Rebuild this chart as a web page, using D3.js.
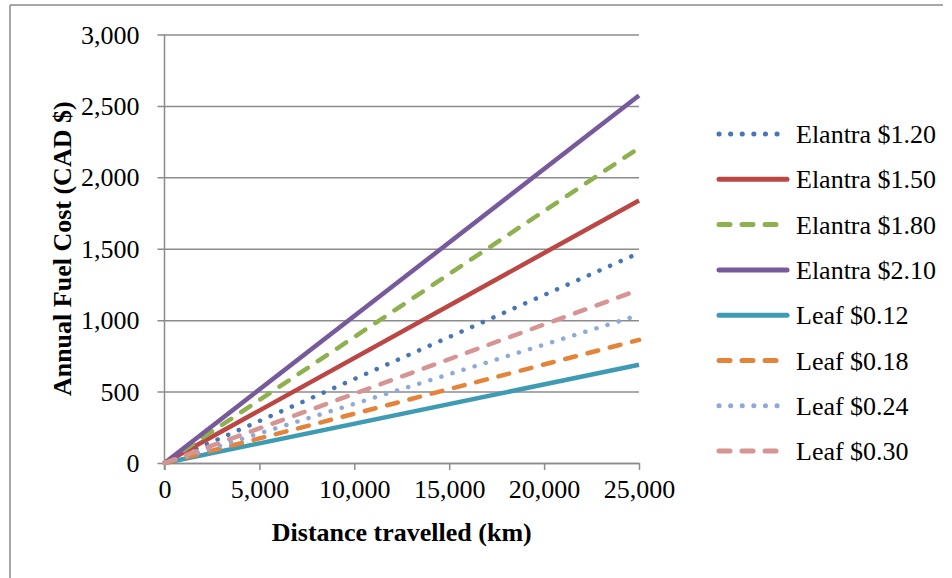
<!DOCTYPE html>
<html>
<head>
<meta charset="utf-8">
<script src="https://cdn.jsdelivr.net/npm/d3@7"></script>
<style>
	body { margin: 0; background: #fff; }
	svg { display: block; font-family: "Liberation Serif", "Times New Roman", serif; }
</style>
</head>
<body>
<div id="chart"></div>
<script>

// Distance travelled (km), x values of every series
const distances = [0, 25000];

// Annual fuel cost (CAD $)
const elantra120 = [0, 1470];
const elantra150 = [0, 1838];
const elantra180 = [0, 2205];
const elantra210 = [0, 2573];
const leaf012 = [0, 688];
const leaf018 = [0, 862];
const leaf024 = [0, 1036];
const leaf030 = [0, 1212];

const seriesNames = ['Elantra $1.20', 'Elantra $1.50', 'Elantra $1.80', 'Elantra $2.10',
					 'Leaf $0.12', 'Leaf $0.18', 'Leaf $0.24', 'Leaf $0.30'];
const seriesValues = [elantra120, elantra150, elantra180, elantra210,
					  leaf012, leaf018, leaf024, leaf030];

const xTicks = [0, 5000, 10000, 15000, 20000, 25000];
const yTicks = [0, 500, 1000, 1500, 2000, 2500, 3000];

// line styles: colour + dash pattern
const styles = [
	{ color: '#4676b6', dash: '0.1,11.5' },
	{ color: '#bb4744', dash: null },
	{ color: '#8fb04f', dash: '11,12' },
	{ color: '#765a9c', dash: null },
	{ color: '#3f9bb4', dash: null },
	{ color: '#e4843a', dash: '11,12' },
	{ color: '#8eaad8', dash: '0.1,11.5' },
	{ color: '#d69493', dash: '11,12' }
];

const width = 952, height = 578;
const plot = { left: 164.5, right: 639, top: 34.5, bottom: 463 };

const svg = d3.select('#chart').append('svg')
	.attr('width', width)
	.attr('height', height);

// outer frame (top and left edge visible)
svg.append('line')
	.attr('x1', 10).attr('x2', 943).attr('y1', 5).attr('y2', 5)
	.attr('stroke', '#8a8a8a').attr('stroke-width', 1.5);
svg.append('line')
	.attr('x1', 10).attr('x2', 10).attr('y1', 5).attr('y2', height)
	.attr('stroke', '#8a8a8a').attr('stroke-width', 1.5);

const x = d3.scaleLinear()
	.domain([0, 25000])
	.range([plot.left, plot.right]);

const y = d3.scaleLinear()
	.domain([0, 3000])
	.range([plot.bottom, plot.top]);

const fmt = d3.format(',');

// Y axis with gridlines
const yAxis = svg.append('g')
	.attr('transform', `translate(${plot.left},0)`)
	.call(d3.axisLeft(y)
		.tickValues(yTicks)
		.tickFormat(fmt)
		.tickSize(-(plot.right - plot.left))
		.tickSizeOuter(0)
		.tickPadding(0));
yAxis.select('.domain').remove();
yAxis.selectAll('.tick line')
	.attr('x1', -7)
	.attr('stroke', '#8c8c8c')
	.attr('stroke-width', 1.5);
yAxis.selectAll('.tick text')
	.attr('x', -25)
	.attr('dy', '0.33em')
	.attr('fill', '#000')
	.style('font-size', '26px')
	.style('font-family', '"Liberation Serif", serif');

// vertical axis line
svg.append('line')
	.attr('x1', plot.left).attr('x2', plot.left)
	.attr('y1', plot.top).attr('y2', plot.bottom + 7)
	.attr('stroke', '#8c8c8c').attr('stroke-width', 1.5);

// X axis
const xAxis = svg.append('g')
	.attr('transform', `translate(0,${plot.bottom})`)
	.call(d3.axisBottom(x)
		.tickValues(xTicks)
		.tickFormat(fmt)
		.tickSize(7)
		.tickSizeOuter(0)
		.tickPadding(10));
xAxis.select('.domain')
	.attr('stroke', '#8c8c8c')
	.attr('stroke-width', 1.5);
xAxis.selectAll('.tick line')
	.attr('stroke', '#8c8c8c')
	.attr('stroke-width', 1.5);
xAxis.selectAll('.tick text')
	.attr('fill', '#000')
	.style('font-size', '26px')
	.style('font-family', '"Liberation Serif", serif');

// axis titles
svg.append('text')
	.attr('x', (plot.left + plot.right) / 2)
	.attr('y', 541)
	.attr('text-anchor', 'middle')
	.style('font-size', '26px')
	.style('font-weight', 'bold')
	.text('Distance travelled (km)');

svg.append('text')
	.attr('transform', `translate(71,${(plot.top + plot.bottom) / 2}) rotate(-90)`)
	.attr('text-anchor', 'middle')
	.style('font-size', '26px')
	.style('font-weight', 'bold')
	.text('Annual Fuel Cost (CAD $)');

// series lines
const line = d3.line()
	.x((d, i) => x(distances[i]))
	.y(d => y(d));

seriesValues.forEach((vals, i) => {
	svg.append('path')
		.datum(vals)
		.attr('d', line)
		.attr('fill', 'none')
		.attr('stroke', styles[i].color)
		.attr('stroke-width', 4.5)
		.attr('stroke-linecap', styles[i].dash ? 'round' : 'butt')
		.attr('stroke-dasharray', styles[i].dash);
});

// legend
const legend = svg.append('g')
	.attr('transform', 'translate(717,134)');

seriesNames.forEach((name, i) => {
	const item = legend.append('g')
		.attr('transform', `translate(0,${i * 45.3})`);

	item.append('line')
		.attr('x1', 2).attr('x2', 70)
		.attr('y1', 0).attr('y2', 0)
		.attr('stroke', styles[i].color)
		.attr('stroke-width', 5)
		.attr('stroke-linecap', 'round')
		.attr('stroke-dasharray', styles[i].dash);

	item.append('text')
		.attr('x', 79)
		.attr('y', 9)
		.style('font-size', '26px')
		.text(name);
});

</script>
</body>
</html>
